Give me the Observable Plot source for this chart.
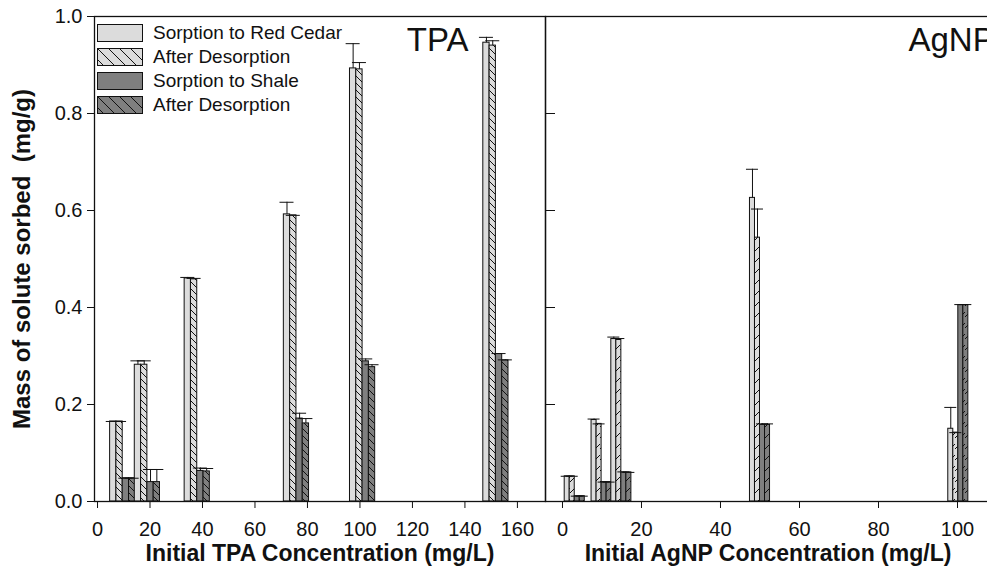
<!DOCTYPE html>
<html>
<head>
<meta charset="utf-8">
<script src="https://cdn.jsdelivr.net/npm/d3@7"></script>
<script src="https://cdn.jsdelivr.net/npm/@observablehq/plot@0.6"></script>
<style>
  body { margin: 0; background: #fff; font-family: "Liberation Sans", Arial, sans-serif; }
  #wrap { position: relative; width: 987px; height: 575px; overflow: hidden; background: #fff; }
  .panel { position: absolute; top: 0; height: 575px; }
  .panel svg { max-width: none !important; }
  #legend { position: absolute; left: 97px; top: 21px; }
  .row { position: relative; height: 24px; display: flex; align-items: center; }
  .row svg { display: block; }
  .row span { margin-left: 10px; font-size: 19px; color: #111; line-height: 24px; white-space: nowrap; }
</style>
</head>
<body>
<svg width="0" height="0" style="position:absolute">
  <defs>
    <pattern id="lightL" patternUnits="userSpaceOnUse" width="7" height="7">
      <rect width="7" height="7" fill="#dcdcdc"/>
      <path d="M-1,-1L8,8M-1,6L1,8M6,-1L8,1" stroke="#111" stroke-width="1"/>
    </pattern>
    <pattern id="darkL" patternUnits="userSpaceOnUse" width="7" height="7">
      <rect width="7" height="7" fill="#7f7f7f"/>
      <path d="M-1,-1L8,8M-1,6L1,8M6,-1L8,1" stroke="#111" stroke-width="1"/>
    </pattern>
    <pattern id="lightR" patternUnits="userSpaceOnUse" width="5" height="11">
      <rect width="5" height="11" fill="#dcdcdc"/>
      <path d="M0,9L5,4" stroke="#111" stroke-width="1"/>
    </pattern>
    <pattern id="darkR" patternUnits="userSpaceOnUse" width="5" height="11">
      <rect width="5" height="11" fill="#7f7f7f"/>
      <path d="M0,9L5,4" stroke="#111" stroke-width="1"/>
    </pattern>
    <pattern id="lightLeg" patternUnits="userSpaceOnUse" width="11" height="11">
      <rect width="11" height="11" fill="#dcdcdc"/>
      <path d="M-1,-1L12,12M-1,10L1,12M10,-1L12,1" stroke="#111" stroke-width="1"/>
    </pattern>
    <pattern id="darkLeg" patternUnits="userSpaceOnUse" width="11" height="11">
      <rect width="11" height="11" fill="#7f7f7f"/>
      <path d="M-1,-1L12,12M-1,10L1,12M10,-1L12,1" stroke="#111" stroke-width="1"/>
    </pattern>
  </defs>
</svg>
<div id="wrap">
  <div id="left" class="panel" style="left:0px;width:545px"></div>
  <div id="right" class="panel" style="left:540px;width:460px"></div>
  <div id="legend"></div>
</div>
<script>
// ---------- data ----------
const seriesNames = ["Sorption to Red Cedar", "After Desorption", "Sorption to Shale", "After Desorption"];

// TPA panel
const tpaConc = [9.6, 19, 38, 75.8, 101, 151.8];
const tpaCedar = [0.165, 0.282, 0.460, 0.592, 0.893, 0.946];
const tpaCedarErr = [0.000, 0.008, 0.002, 0.025, 0.051, 0.011];
const tpaCedarDes = [0.165, 0.282, 0.458, 0.590, 0.891, 0.940];
const tpaCedarDesErr = [0.000, 0.008, 0.002, 0.000, 0.014, 0.010];
const tpaShale = [0.048, 0.040, 0.063, 0.171, 0.289, 0.304];
const tpaShaleErr = [0.000, 0.026, 0.006, 0.011, 0.005, 0.001];
const tpaShaleDes = [0.048, 0.040, 0.062, 0.161, 0.277, 0.291];
const tpaShaleDesErr = [0.000, 0.026, 0.006, 0.010, 0.005, 0.001];
const tpaTicks = [0, 20, 40, 60, 80, 100, 120, 140, 160];

// AgNP panel
const agConc = [3.1, 9.9, 14.9, 50.0, 100.2];
const agCedar = [0.052, 0.168, 0.335, 0.626, 0.150];
const agCedarErr = [0.000, 0.002, 0.004, 0.059, 0.044];
const agCedarDes = [0.052, 0.160, 0.333, 0.544, 0.142];
const agCedarDesErr = [0.000, 0.000, 0.003, 0.059, 0.000];
const agShale = [0.011, 0.040, 0.060, 0.158, 0.405];
const agShaleErr = [0.000, 0.000, 0.001, 0.002, 0.001];
const agShaleDes = [0.011, 0.040, 0.060, 0.158, 0.405];
const agShaleDesErr = [0.000, 0.000, 0.000, 0.002, 0.001];
const agTicks = [0, 20, 40, 60, 80, 100];

const yTicks = [0, 0.2, 0.4, 0.6, 0.8, 1.0];
const yTitle = "Mass of solute sorbed\u00a0\u00a0(mg/g)";
const tpaTitle = "Initial TPA Concentration (mg/L)";
const agTitle = "Initial AgNP Concentration (mg/L)";

// ---------- table builder ----------
function build(conc, vals, errs, fills, barW, capHalf) {
  const rows = [];
  conc.forEach((c, g) => {
    vals.forEach((arr, s) => {
      const x1 = c + (s - 2) * barW;
      const xc = x1 + barW / 2;
      rows.push({x1, x2: x1 + barW, xc, y0: 0, y: arr[g], top: arr[g] + errs[s][g],
                 c1: xc - capHalf, c2: xc + capHalf, fill: fills[s]});
    });
  });
  return rows;
}

const tpaRows = build(tpaConc, [tpaCedar, tpaCedarDes, tpaShale, tpaShaleDes],
  [tpaCedarErr, tpaCedarDesErr, tpaShaleErr, tpaShaleDesErr],
  ["#dcdcdc", "url(#lightL)", "#7f7f7f", "url(#darkL)"], 2.4, 2.67);
const agRows = build(agConc, [agCedar, agCedarDes, agShale, agShaleDes],
  [agCedarErr, agCedarDesErr, agShaleErr, agShaleDesErr],
  ["#dcdcdc", "url(#lightR)", "#7f7f7f", "url(#darkR)"], 1.27, 1.52);

const font = '"Liberation Sans", Arial, sans-serif';
const baseStyle = {fontFamily: font, fontSize: "20px", color: "#111", background: "transparent", overflow: "visible"};

function barMarks(rows) {
  return [
    Plot.rect(rows, {x1: "x1", x2: "x2", y1: "y0", y2: "y", fill: "fill", stroke: "#111", strokeWidth: 1}),
    Plot.ruleX(rows, {x: "xc", y1: "y", y2: "top", stroke: "#111", strokeWidth: 1}),
    Plot.ruleY(rows, {y: "top", x1: "c1", x2: "c2", stroke: "#111", strokeWidth: 1})
  ];
}

const left = Plot.plot({
  width: 545, height: 575,
  marginLeft: 94, marginRight: 0, marginTop: 16, marginBottom: 74,
  x: {domain: [-1.15, 170.7]},
  y: {domain: [0, 1]},
  color: {type: "identity"},
  style: baseStyle,
  marks: [
    ...barMarks(tpaRows),
    Plot.frame({stroke: "#111", strokeWidth: 1.3}),
    Plot.axisY({ticks: yTicks, tickFormat: d3.format(".1f"), tickSize: 7, tickPadding: 5, label: null, fontSize: 20, stroke: "#111"}),
    Plot.axisX({ticks: tpaTicks, tickFormat: d => String(d), tickSize: 7, tickPadding: 13, label: null, fontSize: 20, stroke: "#111"}),
    Plot.text([tpaTitle], {text: d => d, frameAnchor: "bottom", dy: 52, lineAnchor: "middle", textAnchor: "middle", fontWeight: "bold", fontSize: 23, fill: "#111"}),
    Plot.text([yTitle], {text: d => d, frameAnchor: "left", dx: -72, rotate: -90, lineAnchor: "middle", textAnchor: "middle", fontWeight: "bold", fontSize: 24, fill: "#111"}),
    Plot.text(["TPA"], {text: d => d, frameAnchor: "top-right", dx: -77, dy: 24, lineAnchor: "middle", textAnchor: "end", fontSize: 33, fill: "#111"})
  ]
});
document.getElementById("left").appendChild(left);

const right = Plot.plot({
  width: 460, height: 575,
  marginLeft: 5, marginRight: 10, marginTop: 16, marginBottom: 74,
  x: {domain: [-4.3, 108.35]},
  y: {domain: [0, 1]},
  color: {type: "identity"},
  style: baseStyle,
  marks: [
    ...barMarks(agRows),
    Plot.frame({stroke: "#111", strokeWidth: 1.3}),
    Plot.axisY({ticks: yTicks, tickFormat: () => "", tickSize: -10, label: null, stroke: "#111"}),
    Plot.axisX({ticks: agTicks, tickFormat: d => String(d), tickSize: 7, tickPadding: 13, label: null, fontSize: 20, stroke: "#111"}),
    Plot.text([agTitle], {text: d => d, frameAnchor: "bottom", dy: 52, lineAnchor: "middle", textAnchor: "middle", fontWeight: "bold", fontSize: 23, fill: "#111"}),
    Plot.text(["AgNP"], {text: d => d, frameAnchor: "top-left", dx: 363, dy: 24, lineAnchor: "middle", textAnchor: "start", fontSize: 33, fill: "#111"})
  ]
});
document.getElementById("right").appendChild(right);

// ---------- legend ----------
const legendFills = ["#dcdcdc", "url(#lightLeg)", "#7f7f7f", "url(#darkLeg)"];
const legend = document.getElementById("legend");
seriesNames.forEach((name, i) => {
  const row = document.createElement("div");
  row.className = "row";
  row.innerHTML = `<svg width="46" height="18"><rect x="0.5" y="0.5" width="45" height="17" fill="${legendFills[i]}" stroke="#111" stroke-width="1"/></svg><span>${name}</span>`;
  legend.appendChild(row);
});
</script>
</body>
</html>
